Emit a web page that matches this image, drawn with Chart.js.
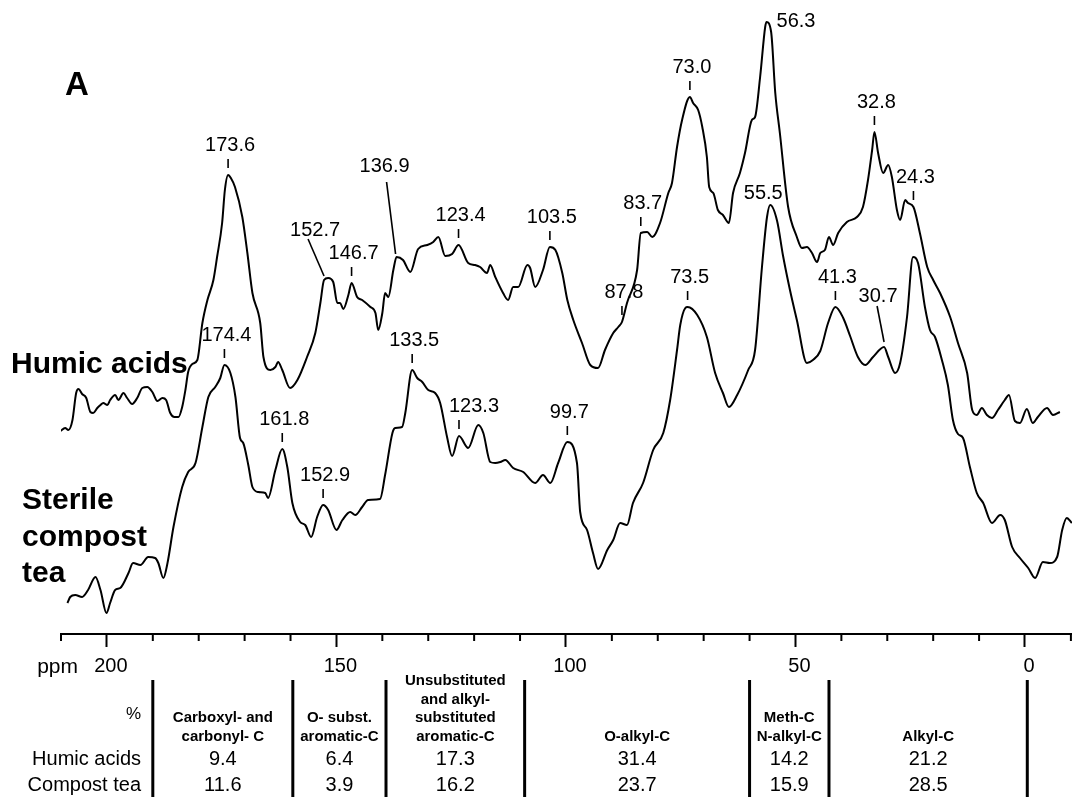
<!DOCTYPE html>
<html>
<head>
<meta charset="utf-8">
<script src="https://cdn.jsdelivr.net/npm/chart.js@4/dist/chart.umd.min.js"></script>
<style>
  html, body { margin: 0; padding: 0; background: #fff; }
  #wrap { position: relative; width: 1072px; height: 797px; }
</style>
</head>
<body>
<div id="wrap"><canvas id="c" width="1072" height="797"></canvas></div>
<script>
// 13C CPMAS NMR spectra: chemical shift (ppm) and plotted signal (a.u.)
const humicPpm = [210.1, 209.1, 208.4, 207.5, 206.7, 206.2, 205.4, 204.5, 203.6, 203.0,
  202.1, 201.4, 200.8, 199.9, 199.3, 198.2, 197.5, 196.4, 195.6, 194.5,
  193.4, 192.3, 191.2, 190.1, 189.0, 187.9, 187.1, 186.2, 185.3, 184.4,
  183.6, 182.9, 182.3, 181.4, 180.3, 179.2, 178.1, 176.8, 176.0, 174.9,
  174.3, 173.6, 173.0, 172.1, 170.5, 169.4, 168.3, 166.6, 165.9, 164.4,
  163.3, 162.7, 161.8, 160.1, 158.5, 156.4, 154.6, 153.5, 152.7, 151.8,
  150.7, 149.8, 149.2, 148.5, 147.4, 146.7, 145.5, 144.4, 142.6, 141.5,
  140.9, 140.0, 139.4, 138.7, 137.6, 136.9, 135.5, 133.9, 132.2, 130.2,
  128.9, 127.8, 126.3, 124.8, 123.4, 121.3, 119.8, 118.7, 117.2, 116.5,
  115.4, 113.7, 112.6, 111.5, 110.4, 108.4, 107.8, 106.7, 105.0, 103.5,
  102.3, 100.8, 99.7, 98.4, 96.5, 94.7, 93.0, 91.5, 89.7, 88.6,
  87.8, 86.7, 84.5, 83.7, 82.3, 81.2, 79.5, 77.7, 76.9, 75.8,
  74.7, 73.0, 72.3, 71.2, 70.3, 69.3, 68.8, 67.9, 66.9, 65.8,
  64.5, 63.6, 62.1, 61.0, 59.5, 58.8, 57.7, 56.6, 56.3, 55.3,
  54.4, 53.4, 51.6, 49.7, 48.6, 47.5, 46.4, 45.3, 44.6, 43.6,
  42.7, 41.8, 40.7, 38.8, 36.6, 35.3, 34.2, 33.3, 32.8, 32.0,
  30.9, 29.8, 29.0, 27.9, 27.2, 26.1, 25.5, 24.3, 22.9, 21.3,
  20.0, 18.5, 16.3, 14.6, 12.6, 11.5, 10.5, 9.4, 8.3, 7.2,
  5.9, 4.4, 3.5, 2.2, 1.1, -0.4, -1.7, -2.8, -4.8, -6.1,
  -7.6];
const humicSignal = [-1, 2, 0, 10, 37, 41, 36, 32, 18, 17,
  22, 25, 27, 25, 30, 35, 30, 37, 32, 26,
  32, 42, 43, 38, 29, 32, 30, 17, 13, 13,
  23, 40, 58, 66, 70, 107, 130, 150, 173, 207,
  240, 255, 252, 243, 213, 177, 137, 107, 73, 60,
  63, 68, 60, 42, 50, 73, 97, 127, 150, 152,
  148, 127, 127, 121, 135, 147, 133, 130, 123, 117,
  100, 117, 137, 133, 160, 173, 170, 158, 181, 185,
  188, 193, 174, 176, 185, 167, 165, 163, 157, 165,
  153, 137, 130, 143, 143, 165, 162, 143, 160, 183,
  180, 157, 130, 110, 87, 65, 62, 80, 97, 103,
  108, 127, 160, 197, 198, 193, 207, 237, 247, 283,
  310, 333, 327, 320, 303, 273, 243, 237, 220, 215,
  207, 237, 257, 277, 310, 313, 353, 403, 408, 398,
  337, 297, 223, 193, 182, 183, 177, 168, 177, 180,
  193, 185, 197, 208, 213, 223, 250, 280, 298, 277,
  257, 265, 253, 220, 210, 230, 227, 223, 197, 163,
  150, 137, 113, 87, 57, 20, 15, 22, 15, 12,
  20, 30, 35, 9, 7, 21, 7, 13, 22, 15,
  18];

const teaPpm = [208.6, 208.0, 206.9, 205.4, 204.1, 202.5, 201.4, 200.1, 199.3, 198.2,
  197.1, 195.3, 194.3, 192.7, 191.0, 189.5, 188.8, 187.7, 186.8, 185.5,
  183.6, 182.3, 180.7, 179.2, 177.9, 176.4, 175.3, 174.4, 173.1, 172.0,
  171.0, 170.3, 169.2, 168.3, 167.0, 165.5, 164.9, 163.3, 161.8, 160.7,
  159.6, 157.9, 156.8, 155.5, 154.2, 152.9, 151.8, 150.0, 148.7, 147.0,
  145.9, 144.4, 143.1, 140.5, 139.4, 137.8, 137.2, 135.7, 135.0, 133.5,
  132.4, 131.3, 130.0, 128.5, 127.4, 125.9, 124.8, 123.3, 121.3, 119.1,
  118.0, 116.5, 115.4, 114.3, 113.2, 111.5, 109.3, 106.7, 105.0, 103.4,
  101.7, 99.7, 97.6, 96.9, 95.4, 94.1, 93.0, 91.0, 89.7, 88.2,
  86.7, 85.4, 83.2, 81.0, 78.8, 77.3, 75.8, 75.1, 74.0, 73.5,
  71.4, 69.3, 67.5, 65.8, 64.5, 62.7, 60.3, 58.8, 57.3, 56.2,
  55.5, 54.0, 52.7, 51.2, 49.7, 47.5, 46.2, 44.6, 42.9, 41.3,
  39.6, 38.1, 36.4, 34.8, 33.1, 30.7, 29.8, 28.3, 27.2, 25.7,
  24.4, 23.3, 21.8, 20.7, 19.6, 18.1, 16.8, 15.7, 14.6, 13.5,
  12.0, 10.5, 9.1, 7.2, 5.4, 4.4, 2.8, 1.1, -0.7, -2.2,
  -3.9, -5.4, -7.0, -8.1, -9.1, -10.2];
const teaSignal = [7, 13, 15, 13, 20, 33, 20, -3, 7, 20,
  22, 37, 47, 45, 53, 52, 47, 32, 47, 83,
  123, 138, 147, 183, 213, 223, 232, 245, 237, 213,
  172, 167, 145, 123, 118, 117, 112, 140, 161, 143,
  107, 88, 85, 73, 93, 105, 100, 80, 90, 98,
  95, 103, 110, 111, 135, 177, 182, 183, 197, 240,
  232, 228, 220, 217, 207, 173, 154, 174, 162, 185,
  177, 148, 147, 148, 150, 142, 138, 127, 135, 127,
  147, 168, 147, 98, 80, 57, 41, 60, 70, 87,
  85, 107, 127, 160, 177, 210, 260, 285, 302, 303,
  295, 273, 237, 217, 203, 215, 240, 260, 343, 393,
  405, 389, 354, 320, 290, 247, 250, 259, 287, 303,
  292, 274, 253, 245, 253, 263, 253, 237, 247, 293,
  353, 347, 303, 280, 273, 250, 225, 190, 176, 172,
  143, 117, 107, 87, 95, 90, 63, 52, 42, 32,
  48, 47, 53, 80, 92, 87];

// vertical stacking of the two traces
const humicOffset = 204;
const teaOffset = 24;

// labelled resonances (ppm)
const humicPeaks = [173.6, 152.7, 146.7, 136.9, 123.4, 103.5, 87.8, 83.7, 73.0, 56.3, 32.8, 24.3];
const teaPeaks = [174.4, 161.8, 152.9, 133.5, 123.3, 99.7, 73.5, 55.5, 41.3, 30.7];

// axis ticks (ppm)
const majorTicks = [200, 150, 100, 50, 0];
const minorTicks = [210, 200, 190, 180, 170, 160, 150, 140, 130, 120, 110, 100, 90, 80, 70, 60, 50, 40, 30, 20, 10, 0, -10];

// integrated carbon regions (% of total signal)
const regionBounds = [190, 159.5, 139.2, 109, 60, 42.7, -0.5];
const regionNames = [
  ['Carboxyl- and', 'carbonyl- C'],
  ['O- subst.', 'aromatic-C'],
  ['Unsubstituted', 'and alkyl-', 'substituted', 'aromatic-C'],
  ['O-alkyl-C'],
  ['Meth-C', 'N-alkyl-C'],
  ['Alkyl-C']
];
const rowNames = ['Humic acids', 'Compost tea'];
const humicShares = [9.4, 6.4, 17.3, 31.4, 14.2, 21.2];
const teaShares = [11.6, 3.9, 16.2, 23.7, 15.9, 28.5];

const FONT = "'Liberation Sans', Arial, Helvetica, sans-serif";

// placement of peak labels that do not sit straight above their peak
const peakLayout = {
  '152.7': { kind: 'leader', dx: -9, dy: -50, from: [-16, -41], to: [0, -4] },
  '136.9': { kind: 'leader', dx: -12, dy: -91, from: [-10, -75], to: [-1, -3] },
  '30.7':  { kind: 'leader', dx: -6, dy: -51, from: [-7, -41], to: [0, -5] },
  '56.3':  { kind: 'side', dx: 10, dy: -1 },
  '55.5':  { kind: 'plain', dx: -7, dy: -12 },
  '123.3': { kind: 'tick', dx: 15 }
};

function seg(ctx, x1, y1, x2, y2) {
  ctx.beginPath();
  ctx.moveTo(x1, y1);
  ctx.lineTo(x2, y2);
  ctx.stroke();
}

function drawPeakLabels(ctx, xs, ys, peaks, ppm, signal, offset) {
  ctx.font = `20px ${FONT}`;
  ctx.textBaseline = 'middle';
  ctx.lineWidth = 1.6;
  peaks.forEach(p => {
    const i = ppm.indexOf(p);
    const px = xs.getPixelForValue(p);
    const py = ys.getPixelForValue(signal[i] + offset);
    const text = p.toFixed(1);
    const lay = peakLayout[text] || { kind: 'tick' };
    if (lay.kind === 'tick') {
      ctx.textAlign = 'center';
      ctx.fillText(text, px + (lay.dx !== undefined ? lay.dx : 2), py - 30);
      seg(ctx, px, py - 16, px, py - 7);
    } else if (lay.kind === 'leader') {
      ctx.textAlign = 'center';
      ctx.fillText(text, px + lay.dx, py + lay.dy);
      seg(ctx, px + lay.from[0], py + lay.from[1], px + lay.to[0], py + lay.to[1]);
    } else if (lay.kind === 'side') {
      ctx.textAlign = 'left';
      ctx.fillText(text, px + lay.dx, py + lay.dy);
    } else {
      ctx.textAlign = 'center';
      ctx.fillText(text, px + lay.dx, py + lay.dy);
    }
  });
}

const annotate = {
  id: 'annotate',
  afterDraw(chart) {
    const ctx = chart.ctx;
    const xs = chart.scales.x;
    const ys = chart.scales.y;
    ctx.save();
    ctx.fillStyle = '#000';
    ctx.strokeStyle = '#000';

    // minor tick marks
    ctx.lineWidth = 2;
    minorTicks.forEach(v => {
      if (majorTicks.includes(v)) return;
      const px = xs.getPixelForValue(v);
      seg(ctx, px, ys.bottom, px, ys.bottom + 7);
    });

    // axis unit
    ctx.font = `21px ${FONT}`;
    ctx.textAlign = 'right';
    ctx.textBaseline = 'alphabetic';
    ctx.fillText('ppm', 78, 673);

    // peak labels
    drawPeakLabels(ctx, xs, ys, humicPeaks, humicPpm, humicSignal, humicOffset);
    drawPeakLabels(ctx, xs, ys, teaPeaks, teaPpm, teaSignal, teaOffset);

    // panel letter and trace names
    ctx.textAlign = 'left';
    ctx.textBaseline = 'alphabetic';
    ctx.font = `bold 33px ${FONT}`;
    ctx.fillText('A', 65, 95);
    ctx.font = `bold 30px ${FONT}`;
    ctx.fillText('Humic acids', 11, 373);
    ctx.fillText('Sterile', 22, 509);
    ctx.fillText('compost', 22, 546);
    ctx.fillText('tea', 22, 582);

    // region table
    const bx = regionBounds.map(v => xs.getPixelForValue(v));
    ctx.lineWidth = 3;
    bx.forEach(b => seg(ctx, b, 680, b, 797));
    ctx.textBaseline = 'middle';
    regionNames.forEach((lines, k) => {
      const cx = (bx[k] + bx[k + 1]) / 2;
      ctx.textAlign = 'center';
      ctx.font = `bold 15px ${FONT}`;
      lines.forEach((t, j) => {
        ctx.fillText(t, cx, 737 - (lines.length - 1 - j) * 18.7);
      });
      ctx.font = `20px ${FONT}`;
      ctx.fillText(humicShares[k].toFixed(1), cx, 759);
      ctx.fillText(teaShares[k].toFixed(1), cx, 785);
    });
    ctx.textAlign = 'right';
    ctx.font = `17px ${FONT}`;
    ctx.fillText('%', 141, 714);
    ctx.font = `20px ${FONT}`;
    ctx.fillText(rowNames[0], 141, 759);
    ctx.fillText(rowNames[1], 141, 785);

    ctx.restore();
  }
};

const traceStyle = {
  borderColor: '#000',
  borderWidth: 2,
  pointRadius: 0,
  fill: false,
  cubicInterpolationMode: 'monotone'
};

new Chart(document.getElementById('c'), {
  type: 'line',
  data: {
    datasets: [
      Object.assign({ label: 'Humic acids',
        data: humicPpm.map((p, i) => ({ x: p, y: humicSignal[i] + humicOffset })) }, traceStyle),
      Object.assign({ label: 'Sterile compost tea',
        data: teaPpm.map((p, i) => ({ x: p, y: teaSignal[i] + teaOffset })) }, traceStyle)
    ]
  },
  options: {
    responsive: false,
    animation: false,
    devicePixelRatio: 1,
    layout: { padding: { left: 61, right: 0, top: 0, bottom: 0 } },
    plugins: { legend: { display: false }, tooltip: { enabled: false } },
    scales: {
      x: {
        type: 'linear',
        reverse: true,
        min: -10.24,
        max: 210,
        afterBuildTicks: s => { s.ticks = minorTicks.map(v => ({ value: v })); },
        afterFit: s => { s.height = 163; },
        ticks: {
          autoSkip: false,
          maxRotation: 0,
          padding: 0,
          labelOffset: 4,
          color: '#000',
          font: { family: FONT, size: 20, lineHeight: 1.9 },
          callback: v => (majorTicks.includes(v) ? String(v) : '')
        },
        grid: {
          display: true,
          drawOnChartArea: false,
          drawTicks: true,
          tickLength: 13,
          tickWidth: 2,
          tickColor: c => (c.tick && majorTicks.includes(c.tick.value) ? '#000' : 'rgba(0,0,0,0)')
        },
        border: { display: true, color: '#000', width: 2 }
      },
      y: { display: false, min: 0, max: 634 }
    }
  },
  plugins: [annotate]
});
</script>
</body>
</html>
